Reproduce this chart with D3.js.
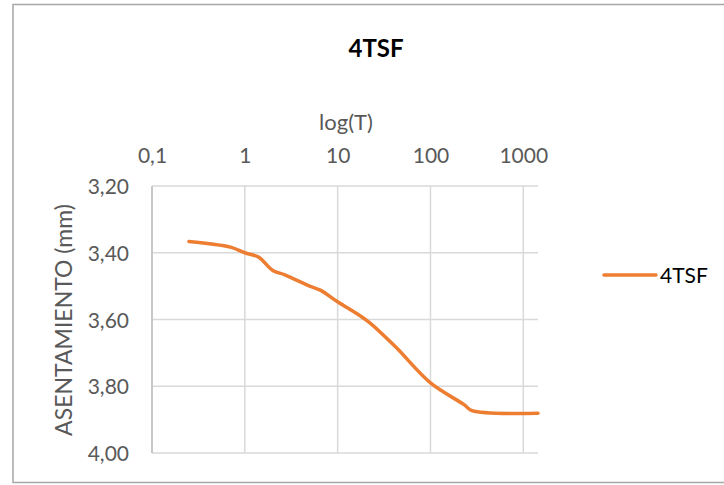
<!DOCTYPE html>
<html>
<head>
<meta charset="utf-8">
<script src="https://cdn.jsdelivr.net/npm/d3@7"></script>
<style>
  html, body { margin: 0; padding: 0; background: #fff; }
  svg { display: block; font-family: Lato, "Open Sans", sans-serif; }
</style>
</head>
<body>
<svg id="chart" width="724" height="485"></svg>
<script>
// Settlement vs. time (log scale) for the 4 TSF load step
const seriesName = "4TSF";
const times = [0.25, 0.7, 1, 1.4, 2, 2.7, 5, 6.5, 10, 17.5, 22.4, 42, 100, 230, 280, 1440];
const settlement = [3.366, 3.383, 3.400, 3.413, 3.453, 3.466, 3.500, 3.512, 3.547, 3.589, 3.611, 3.682, 3.790, 3.855, 3.873, 3.881];
const xTicks = [0.1, 1, 10, 100, 1000];
const yTicks = [3.2, 3.4, 3.6, 3.8, 4.0];
const xDomain = [0.1, 1440];
const yDomain = [3.2, 4.0];

const svg = d3.select("#chart");
const plot = { left: 152, right: 538, top: 186, bottom: 453 };

const x = d3.scaleLog().domain(xDomain).range([plot.left, plot.right]);
const y = d3.scaleLinear().domain(yDomain).range([plot.top, plot.bottom]);

const comma = v => String(v).replace(".", ",");
const fmtY = v => d3.format(".2f")(v).replace(".", ",");

// chart frame
svg.append("rect")
  .attr("x", 13).attr("y", 4.5)
  .attr("width", 740).attr("height", 478)
  .attr("fill", "none").attr("stroke", "#a6a6a6").attr("stroke-width", 1.5);

// title
svg.append("text")
  .attr("x", 376).attr("y", 57)
  .attr("text-anchor", "middle")
  .attr("font-size", 24).attr("font-weight", "bold").attr("fill", "#000")
  .text(seriesName);

// gridlines
const grid = svg.append("g").attr("stroke", "#d9d9d9").attr("stroke-width", 1.5);
grid.selectAll("line.h").data(yTicks).join("line")
  .attr("class", "h")
  .attr("x1", plot.left).attr("x2", plot.right)
  .attr("y1", d => y(d)).attr("y2", d => y(d));
grid.selectAll("line.v").data(xTicks).join("line")
  .attr("class", "v")
  .attr("x1", d => x(d)).attr("x2", d => x(d))
  .attr("y1", plot.top).attr("y2", plot.bottom);

// vertical axis line
svg.append("line")
  .attr("x1", plot.left).attr("x2", plot.left)
  .attr("y1", plot.top).attr("y2", plot.bottom)
  .attr("stroke", "#bfbfbf").attr("stroke-width", 1.5);

// top axis (time) labels
const xAxis = d3.axisTop(x).tickValues(xTicks).tickFormat(comma).tickSize(0).tickPadding(0);
const gx = svg.append("g").attr("transform", `translate(0,163)`).call(xAxis);
gx.select(".domain").remove();
gx.selectAll("text").attr("font-size", 21).attr("fill", "#595959")
  .attr("font-family", "Lato, 'Open Sans', sans-serif").attr("dy", 0);

// left axis labels
const yAxis = d3.axisLeft(y).tickValues(yTicks).tickFormat(fmtY).tickSize(0).tickPadding(0);
const gy = svg.append("g").attr("transform", `translate(129,0)`).call(yAxis);
gy.select(".domain").remove();
gy.selectAll("text").attr("font-size", 21).attr("fill", "#595959")
  .attr("font-family", "Lato, 'Open Sans', sans-serif").attr("dy", "0.36em");

// axis titles
svg.append("text")
  .attr("x", 346).attr("y", 130)
  .attr("text-anchor", "middle")
  .attr("font-size", 22).attr("fill", "#595959")
  .text("log(T)");

svg.append("text")
  .attr("transform", "translate(72,320) rotate(-90)")
  .attr("text-anchor", "middle")
  .attr("font-size", 23).attr("fill", "#595959")
  .text("ASENTAMIENTO (mm)");

// settlement curve
const data = times.map((t, i) => ({ t, v: settlement[i] }));
const line = d3.line()
  .x(d => x(d.t)).y(d => y(d.v))
  .curve(d3.curveCatmullRom.alpha(0.5));
svg.append("path")
  .datum(data)
  .attr("d", line)
  .attr("fill", "none")
  .attr("stroke", "#ed7d31")
  .attr("stroke-width", 3.5)
  .attr("stroke-linejoin", "round")
  .attr("stroke-linecap", "round");

// legend
const lg = svg.append("g").attr("transform", "translate(604,275)");
lg.append("line")
  .attr("x1", 0).attr("x2", 52).attr("y1", 0).attr("y2", 0)
  .attr("stroke", "#ed7d31").attr("stroke-width", 3.5).attr("stroke-linecap", "round");
lg.append("text")
  .attr("x", 56).attr("y", 0).attr("dy", "0.36em")
  .attr("font-size", 21).attr("fill", "#000")
  .text(seriesName);
</script>
</body>
</html>
